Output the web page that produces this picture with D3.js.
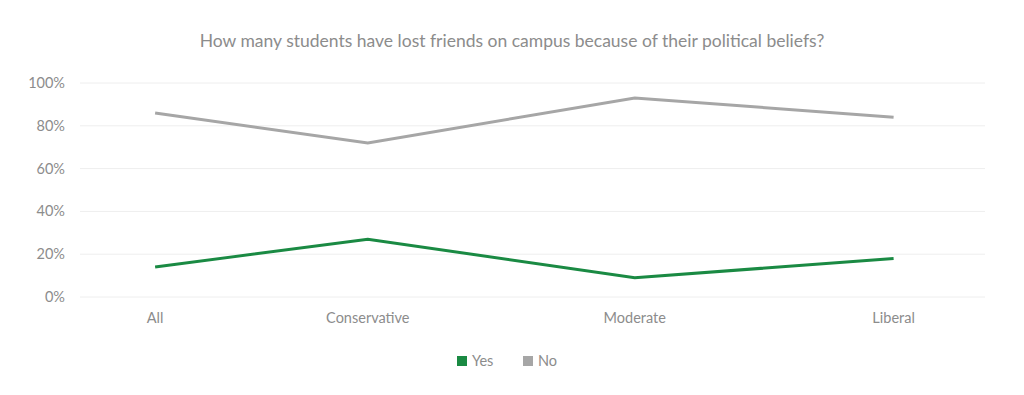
<!DOCTYPE html>
<html>
<head>
<meta charset="utf-8">
<title>Lost friends on campus</title>
<script src="https://d3js.org/d3.v7.min.js"></script>
<style>
  body { margin: 0; background: #fff; }
  text { font-family: "Lato", "Noto Sans", sans-serif; fill: #8c8c8c; }
</style>
</head>
<body>
<div id="chart"></div>
<script>
// chart data
const categories = ["All", "Conservative", "Moderate", "Liberal"];
const yesValues = [14, 27, 9, 18];
const noValues = [86, 72, 93, 84];
const yTicks = [0, 20, 40, 60, 80, 100];

const width = 1024, height = 395;
const plot = { left: 80, right: 985, top: 83, bottom: 297 };

// category slots are not evenly spaced in the source chart
const slotFrac = [0.083, 0.318, 0.613, 0.899];

const svg = d3.select("#chart").append("svg")
  .attr("width", width).attr("height", height);

const y = d3.scaleLinear().domain([0, 100]).range([plot.bottom, plot.top]);
const xFrac = d3.scaleOrdinal().domain(categories).range(slotFrac);
const xLin = d3.scaleLinear().domain([0, 1]).range([plot.left, plot.right]);
const x = c => xLin(xFrac(c));

// title
svg.append("text")
  .attr("x", 512).attr("y", 47)
  .attr("text-anchor", "middle")
  .style("font-size", "17.5px")
  .text("How many students have lost friends on campus because of their political beliefs?");

// gridlines
svg.append("g").selectAll("line").data(yTicks).join("line")
  .attr("x1", plot.left).attr("x2", plot.right)
  .attr("y1", d => y(d)).attr("y2", d => y(d))
  .attr("stroke", "#eeeeee").attr("stroke-width", 1);

// y labels
svg.append("g").selectAll("text").data(yTicks).join("text")
  .attr("x", 65).attr("y", d => y(d) + 5)
  .attr("text-anchor", "end")
  .style("font-size", "14.5px")
  .text(d => d + "%");

// x labels
svg.append("g").selectAll("text").data(categories).join("text")
  .attr("x", d => x(d)).attr("y", 323)
  .attr("text-anchor", "middle")
  .style("font-size", "14.5px")
  .text(d => d);

const series = [
  { name: "Yes", values: yesValues, color: "#1a8a43" },
  { name: "No", values: noValues, color: "#a6a6a6" }
];

const line = d3.line()
  .x((d, i) => x(categories[i]))
  .y(d => y(d));

svg.append("g").selectAll("path").data(series).join("path")
  .attr("d", d => line(d.values))
  .attr("fill", "none")
  .attr("stroke", d => d.color)
  .attr("stroke-width", 3);

// legend
const legend = svg.append("g");
const legendX = [457, 523];
series.forEach((s, i) => {
  legend.append("rect")
    .attr("x", legendX[i]).attr("y", 356)
    .attr("width", 10).attr("height", 10)
    .attr("fill", s.color);
  legend.append("text")
    .attr("x", legendX[i] + 15).attr("y", 366)
    .style("font-size", "14.5px")
    .text(s.name);
});
</script>
</body>
</html>
